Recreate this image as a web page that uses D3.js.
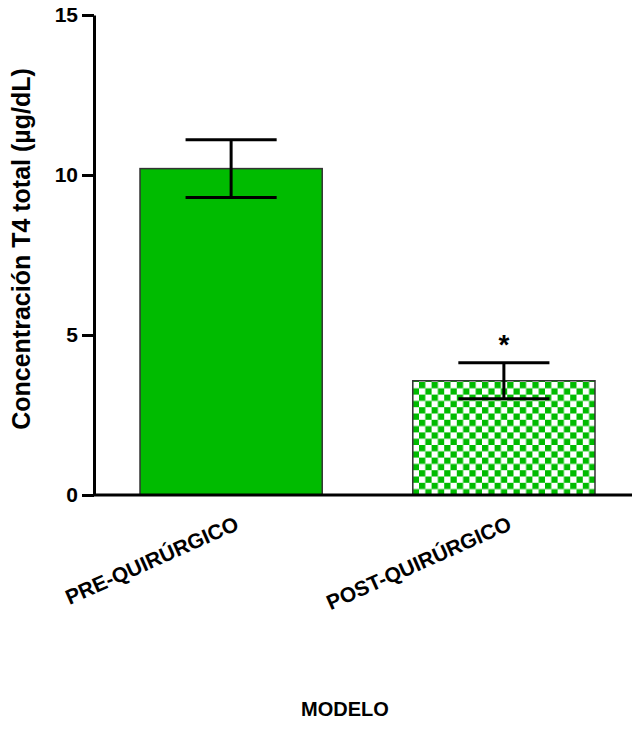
<!DOCTYPE html>
<html>
<head>
<meta charset="utf-8">
<script src="https://cdn.jsdelivr.net/npm/d3@7"></script>
<style>
  body { margin: 0; background: #fff; }
  svg { display: block; font-family: Arial, "Liberation Sans", sans-serif; }
</style>
</head>
<body>
<svg id="chart" width="632" height="748"></svg>
<script>
// data
const categories = ["PRE-QUIRÚRGICO", "POST-QUIRÚRGICO"];
const means = [10.2, 3.57];
const errors = [0.9, 0.56];
const significance = ["", "*"];
const yTicks = [0, 5, 10, 15];

const svg = d3.select("#chart");

const x = d3.scaleBand()
  .domain(categories)
  .range([95, 640])
  .paddingInner(0.332)
  .paddingOuter(0.165);

const y = d3.scaleLinear().domain([0, 15]).range([495, 15]);

const green = "#00bb00";

// checkered fill for the post-surgery bar
const defs = svg.append("defs");
const pat = defs.append("pattern")
  .attr("id", "checker")
  .attr("patternUnits", "userSpaceOnUse")
  .attr("width", 12.6)
  .attr("height", 12.6)
  .attr("x", 419)
  .attr("y", 382);
pat.append("rect").attr("width", 12.6).attr("height", 12.6).attr("fill", "#fff");
pat.append("rect").attr("width", 6.3).attr("height", 6.3).attr("fill", green);
pat.append("rect").attr("x", 6.3).attr("y", 6.3).attr("width", 6.3).attr("height", 6.3).attr("fill", green);

const data = categories.map((c, i) => ({ cat: c, mean: means[i], err: errors[i], sig: significance[i] }));

// bars
svg.selectAll("rect.bar")
  .data(data)
  .enter()
  .append("rect")
  .attr("class", "bar")
  .attr("x", d => x(d.cat))
  .attr("y", d => y(d.mean))
  .attr("width", x.bandwidth())
  .attr("height", d => y(0) - y(d.mean))
  .attr("fill", (d, i) => i === 0 ? green : "url(#checker)")
  .attr("stroke", "#333")
  .attr("stroke-width", 1.5);

// error bars
const capHalf = x.bandwidth() * 0.25;
const eb = svg.selectAll("g.err")
  .data(data)
  .enter()
  .append("g")
  .attr("class", "err")
  .attr("stroke", "#000")
  .attr("stroke-width", 3);

eb.append("line")
  .attr("x1", d => x(d.cat) + x.bandwidth() / 2)
  .attr("x2", d => x(d.cat) + x.bandwidth() / 2)
  .attr("y1", d => y(d.mean + d.err))
  .attr("y2", d => y(d.mean - d.err));

eb.append("line")
  .attr("x1", d => x(d.cat) + x.bandwidth() / 2 - capHalf)
  .attr("x2", d => x(d.cat) + x.bandwidth() / 2 + capHalf)
  .attr("y1", d => y(d.mean + d.err))
  .attr("y2", d => y(d.mean + d.err));

eb.append("line")
  .attr("x1", d => x(d.cat) + x.bandwidth() / 2 - capHalf)
  .attr("x2", d => x(d.cat) + x.bandwidth() / 2 + capHalf)
  .attr("y1", d => y(d.mean - d.err))
  .attr("y2", d => y(d.mean - d.err));

// significance star
svg.selectAll("text.sig")
  .data(data)
  .enter()
  .append("text")
  .attr("class", "sig")
  .attr("x", d => x(d.cat) + x.bandwidth() / 2)
  .attr("y", d => y(d.mean + d.err) - 9)
  .attr("text-anchor", "middle")
  .attr("font-size", 28)
  .attr("font-weight", "bold")
  .text(d => d.sig);

// y axis
const yAxis = svg.append("g")
  .attr("transform", "translate(94,0)")
  .call(d3.axisLeft(y).tickValues(yTicks).tickSize(12).tickSizeOuter(0).tickPadding(4));
yAxis.select(".domain").attr("stroke-width", 3);
yAxis.selectAll(".tick line").attr("stroke-width", 3);
yAxis.selectAll(".tick text")
  .attr("font-size", 21)
  .attr("font-weight", "bold")
  .attr("fill", "#000")
  .attr("font-family", "Arial, 'Liberation Sans', sans-serif");

// x axis
const xAxis = svg.append("g")
  .attr("transform", "translate(0,495)")
  .call(d3.axisBottom(x).tickSize(0).tickSizeOuter(0).tickPadding(0));
xAxis.select(".domain")
  .attr("d", "M94,0H632")
  .attr("stroke-width", 3);
xAxis.selectAll(".tick text")
  .attr("font-size", 21)
  .attr("font-weight", "bold")
  .attr("fill", "#000")
  .attr("font-family", "Arial, 'Liberation Sans', sans-serif")
  .attr("text-anchor", "end")
  .attr("dy", null)
  .attr("y", 0)
  .attr("transform", "translate(9,34) rotate(-24)");

// axis titles
svg.append("text")
  .attr("transform", "translate(30,249) rotate(-90)")
  .attr("text-anchor", "middle")
  .attr("font-size", 25)
  .attr("font-weight", "bold")
  .text("Concentración T4 total (µg/dL)");

svg.append("text")
  .attr("x", 345)
  .attr("y", 716)
  .attr("text-anchor", "middle")
  .attr("font-size", 20)
  .attr("font-weight", "bold")
  .text("MODELO");
</script>
</body>
</html>
